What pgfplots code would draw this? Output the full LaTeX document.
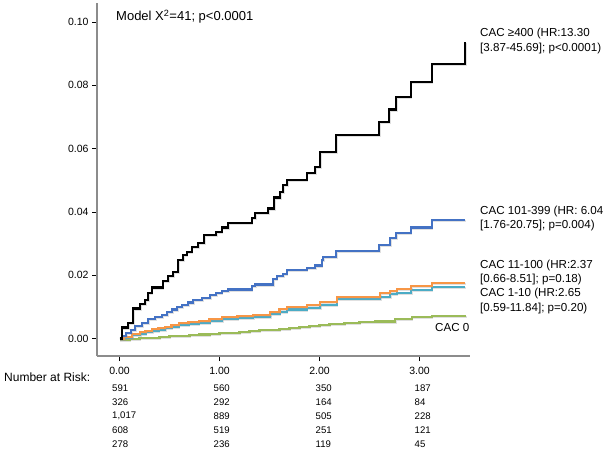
\documentclass[border=0pt]{standalone}
\usepackage{pgfplots}
\pgfplotsset{compat=1.18}
\usepackage{fontspec}
\setmainfont{Liberation Sans}
\definecolor{cblue}{HTML}{4472C4}
\definecolor{corange}{HTML}{F79646}
\definecolor{ccyan}{HTML}{4BACC6}
\definecolor{cgreen}{HTML}{9BBB59}
\definecolor{axgray}{HTML}{8C8C8C}
\tikzset{shadowed/.style={preaction={draw=black!40, opacity=0.3, transform canvas={shift={(0.6pt,-1pt)}}}}}
\begin{document}
\begin{tikzpicture}
\path[use as bounding box] (0,0) rectangle (612pt,-453pt);
\begin{axis}[
  at={(97pt,-356pt)}, anchor=south west,
  scale only axis, width=373pt, height=353pt,
  xmin=-0.225, xmax=3.505, ymin=-0.0055, ymax=0.106,
  axis x line*=bottom, axis y line*=left,
  axis line style={axgray, line width=1.4pt, -},
  tick align=outside, major tick length=5pt,
  tick style={black, line width=0.9pt},
  xtick={0,1,2,3}, ytick={0,0.02,0.04,0.06,0.08,0.1},
  /pgf/number format/.cd, fixed, fixed zerofill, precision=2, assume math mode=true,
  /pgfplots/.cd,
  ticklabel style={font=\fontsize{10.5}{12}\selectfont},
  xticklabel shift=2.5pt,
  every axis plot/.append style={const plot mark left, line width=2.1pt, no markers, shadowed},
  clip=false,
]
\addplot[cgreen] coordinates {(0,-0.0004)(0.1,-0.0001)(0.2,0.0001)(0.3,0.0003)(0.4,0.0005)(0.5,0.0007)(0.6,0.0009)(0.7,0.0011)(0.8,0.0013)(0.9,0.0015)(1.0,0.0017)(1.1,0.0019)(1.2,0.0021)(1.3,0.0023)(1.4,0.0026)(1.5,0.0028)(1.6,0.0031)(1.7,0.0033)(1.8,0.0036)(1.9,0.0039)(2.0,0.0042)(2.1,0.0046)(2.25,0.0048)(2.4,0.0051)(2.555,0.0054)(2.755,0.0061)(2.922,0.0067)(3.122,0.0072)(3.455,0.0076)};
\addplot[ccyan] coordinates {(0,0)(0.045,0.0003)(0.125,0.0010)(0.205,0.0016)(0.26,0.0020)(0.325,0.0024)(0.39,0.0028)(0.455,0.0033)(0.52,0.0038)(0.592,0.0043)(0.69,0.0046)(0.792,0.0050)(0.9,0.0056)(1.025,0.0062)(1.18,0.0064)(1.338,0.0067)(1.505,0.0077)(1.6,0.0084)(1.672,0.0092)(1.872,0.0097)(2.005,0.0107)(2.172,0.0124)(2.605,0.0132)(2.705,0.0141)(2.772,0.0145)(2.915,0.0153)(3.122,0.0164)(3.455,0.0164)};
\addplot[corange] coordinates {(0,0)(0.045,0.0005)(0.125,0.0014)(0.205,0.0021)(0.26,0.0025)(0.325,0.0029)(0.39,0.0033)(0.455,0.0038)(0.52,0.0043)(0.592,0.0048)(0.69,0.0052)(0.792,0.0056)(0.9,0.0063)(1.025,0.0069)(1.18,0.0071)(1.338,0.0074)(1.505,0.0085)(1.6,0.0093)(1.672,0.0101)(1.872,0.0106)(2.005,0.0116)(2.172,0.0132)(2.605,0.0143)(2.705,0.0151)(2.772,0.0158)(2.915,0.0167)(3.122,0.0176)(3.455,0.0176)};
\addplot[cblue] coordinates {(0,0)(0.025,0.0008)(0.065,0.0017)(0.115,0.0027)(0.155,0.0041)(0.225,0.0050)(0.285,0.0062)(0.355,0.0068)(0.425,0.0074)(0.475,0.0085)(0.525,0.0092)(0.575,0.0099)(0.625,0.0106)(0.685,0.0114)(0.735,0.0122)(0.825,0.0127)(0.905,0.0137)(0.965,0.0143)(1.022,0.0151)(1.088,0.0155)(1.322,0.0165)(1.355,0.0171)(1.538,0.0189)(1.572,0.0197)(1.638,0.0205)(1.672,0.0216)(1.872,0.0223)(1.955,0.0231)(2.022,0.0247)(2.035,0.0258)(2.165,0.0278)(2.598,0.0296)(2.705,0.0318)(2.765,0.0334)(2.912,0.0351)(3.122,0.0375)(3.455,0.0375)};
\addplot[black, line width=2.3pt] coordinates {(0,0)(0.022,0.0035)(0.088,0.0050)(0.138,0.0095)(0.205,0.0109)(0.255,0.0122)(0.288,0.0143)(0.322,0.0161)(0.432,0.0182)(0.488,0.0198)(0.538,0.0211)(0.588,0.0248)(0.638,0.0264)(0.672,0.0274)(0.722,0.0290)(0.788,0.0303)(0.845,0.0327)(0.965,0.0337)(1.022,0.0351)(1.088,0.0366)(1.322,0.0380)(1.355,0.0396)(1.488,0.0411)(1.545,0.0446)(1.605,0.0464)(1.638,0.0485)(1.678,0.0501)(1.872,0.0522)(1.955,0.0543)(2.005,0.0590)(2.165,0.0643)(2.598,0.0685)(2.698,0.0724)(2.765,0.0764)(2.912,0.0811)(3.122,0.0867)(3.455,0.0938)};
\end{axis}
% annotations (1px = 1pt, origin top-left)
\node[anchor=west, inner sep=0, font=\fontsize{13}{15}\selectfont] at (116pt,-16.5pt) {Model X\textsuperscript{2}=41; p<0.0001};
\begin{scope}[every node/.style={anchor=west, inner sep=0, font=\fontsize{11.6}{14}\selectfont}]
\node at (480pt,-33.3pt) {CAC ≥400 (HR:13.30};
\node at (480pt,-48.3pt) {[3.87-45.69]; p<0.0001)};
\node at (480pt,-211.7pt) {CAC 101-399 (HR: 6.04};
\node at (480pt,-225.5pt) {[1.76-20.75]; p=0.004)};
\node at (480pt,-265pt) {CAC 11-100 (HR:2.37};
\node at (480pt,-279pt) {[0.66-8.51]; p=0.18)};
\node at (480pt,-293.5pt) {CAC 1-10 (HR:2.65};
\node at (480pt,-308pt) {[0.59-11.84]; p=0.20)};
\node at (435pt,-327pt) {CAC 0};
\node[font=\fontsize{12}{14}\selectfont] at (4pt,-377.5pt) {Number at Risk:};
\end{scope}
\begin{scope}[every node/.style={anchor=west, inner sep=0, font=\fontsize{9.6}{11}\selectfont}]
\node at (112pt,-388pt) {591};   \node at (213.5pt,-388pt) {560}; \node at (315.5pt,-388pt) {350}; \node at (414.5pt,-388pt) {187};
\node at (112pt,-401.8pt) {326};   \node at (213.5pt,-401.8pt) {292}; \node at (315.5pt,-401.8pt) {164}; \node at (414.5pt,-401.8pt) {84};
\node at (112pt,-416pt) {1,017}; \node at (213.5pt,-416pt) {889}; \node at (315.5pt,-416pt) {505}; \node at (414.5pt,-416pt) {228};
\node at (112pt,-430pt) {608};   \node at (213.5pt,-430pt) {519}; \node at (315.5pt,-430pt) {251}; \node at (414.5pt,-430pt) {121};
\node at (112pt,-444pt) {278};   \node at (213.5pt,-444pt) {236}; \node at (315.5pt,-444pt) {119}; \node at (414.5pt,-444pt) {45};
\end{scope}
\end{tikzpicture}
\end{document}
